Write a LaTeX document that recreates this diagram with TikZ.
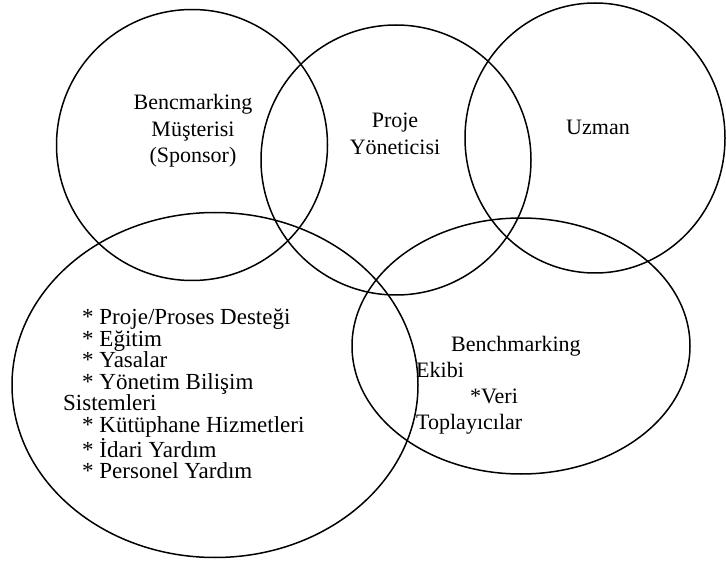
\documentclass[tikz,border=0pt]{standalone}
\usepackage{fontspec}
\setmainfont{Liberation Serif}
\usetikzlibrary{shapes}

\begin{document}
\begin{tikzpicture}[x=1pt, y=-1pt,
   ring/.style={draw, ellipse, line width=1.5pt, inner sep=0pt, outer sep=0pt},
   txt/.style={font=\fontsize{22}{26.5}\selectfont, align=center, inner sep=0pt}]

   \useasboundingbox (0,0) rectangle (726,564);

   % Circles
      \node[ring, minimum width=271pt, minimum height=271pt]  (musteri)  at (192,145) {};
      \node[ring, minimum width=270pt, minimum height=270pt]  (yonetici) at (396,160) {};
      \node[ring, minimum width=260pt, minimum height=270pt]  (uzman)    at (595,138) {};
      \node[ring, minimum width=406pt, minimum height=345pt]  (destek)   at (215,385) {};
      \node[ring, minimum width=338pt, minimum height=256pt]  (ekip)     at (521,346) {};

   % Texts
      \node[txt]  (tmusteri)  at (193,131) {Bencmarking\\Müşterisi\\(Sponsor)};
      \node[txt]  (tyonetici) at (395,134) {Proje\\Yöneticisi};
      \node[txt]  (tuzman)    at (598,127) {Uzman};
      \node[txt, align=left, anchor=west, font=\fontsize{23}{21.5}\selectfont]
                  (tdestek)   at (63,394)
         {\hspace*{19pt}* Proje/Proses Desteği\\
          \hspace*{19pt}* Eğitim\\
          \hspace*{19pt}* Yasalar\\
          \hspace*{19pt}* Yönetim Bilişim\\
          Sistemleri\\
          \hspace*{19pt}* Kütüphane Hizmetleri\\
          \hspace*{19pt}* İdari Yardım\\
          \hspace*{19pt}* Personel Yardım};
      \node[txt, align=left, anchor=west, font=\fontsize{22}{26}\selectfont]
                  (tekip)     at (416,385)
         {\hspace*{35pt}Benchmarking\\
          Ekibi\\
          \hspace*{54pt}*Veri\\
          Toplayıcılar};
\end{tikzpicture}
\end{document}
